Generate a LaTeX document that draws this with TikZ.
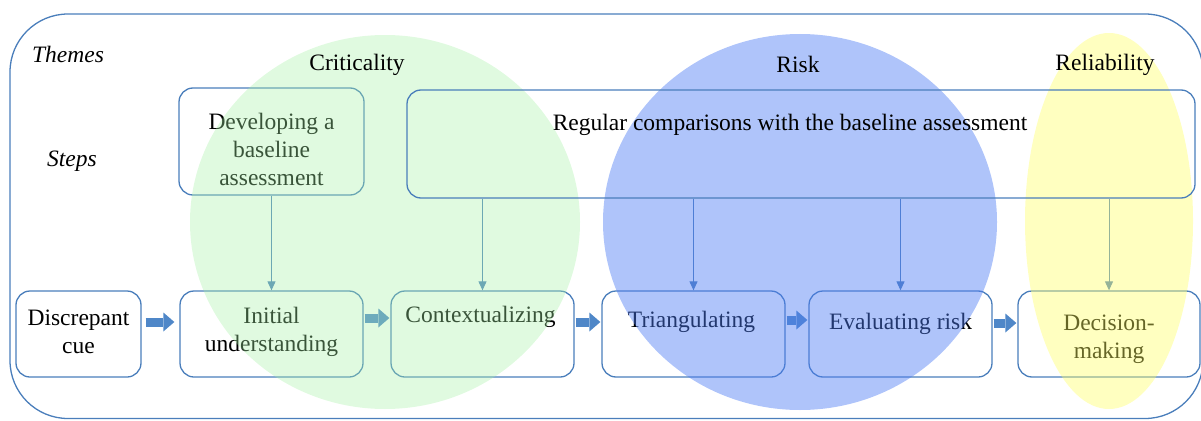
\documentclass[tikz,border=0pt]{standalone}
\usepackage{fontspec}
\setmainfont{Liberation Serif}
\newfontfamily\diagserif{Liberation Serif}
\usetikzlibrary{arrows.meta}
\pgfdeclarelayer{under}
\pgfdeclarelayer{over}
\pgfsetlayers{under,main,over}
\definecolor{boxline}{RGB}{74,126,187}
\definecolor{arrowc}{RGB}{79,129,189}
\definecolor{blockc}{RGB}{79,135,200}
\definecolor{greenc}{RGB}{166,241,166}
\definecolor{bluec}{RGB}{77,124,244}
\definecolor{yellowc}{RGB}{255,255,98}
\begin{document}
\begin{tikzpicture}[x=1pt,y=-1pt,
  font=\diagserif\fontsize{23.5}{28}\selectfont,
  stepbox/.style={draw=boxline, line width=1.3pt, rounded corners=14pt, inner sep=0pt},
  txt/.style={align=center, inner sep=0pt},
  thinarrow/.style={draw=arrowc, line width=1pt, -{Triangle[length=9pt,width=8pt]}},
  blockarrow/.style={draw=blockc, line width=9pt, -{Triangle[length=11pt,width=19pt,line width=0pt]}, shorten <=2pt, shorten >=2pt},
  theme/.style={inner sep=0pt},
  ]
\useasboundingbox (0,0) rectangle (1201,420);

\begin{pgfonlayer}{over}
  \node[stepbox, minimum width=788pt, minimum height=108pt,
        label={[txt, xshift=-11pt, yshift=19pt]center:Regular comparisons with the baseline assessment}]
        (reg) at (801,144) {};
  \node[theme] (crit) at (357,65) {Criticality};
  \node[theme] (risk) at (798,64) {Risk};
  \node[theme] (rel) at (1105,65) {Reliability};
  \node[theme] (themes) at (68,54.5) {\itshape Themes};
  \node[theme] (steps) at (72,161) {\itshape Steps};
\end{pgfonlayer}

\begin{pgfonlayer}{under}
  \draw[draw=boxline, line width=1.3pt, rounded corners=58pt] (10,14) rectangle (1203,418.5);
  \node[stepbox, minimum width=185pt, minimum height=107pt,
        label={[txt, yshift=-8pt]center:Developing a\\baseline\\assessment}]
        (dev) at (271.5,141.5) {};
  \node[stepbox, minimum width=125pt, minimum height=86pt,
        label={[txt, yshift=2.5pt]center:Discrepant\\cue}] (disc) at (78.5,334) {};
  \node[stepbox, minimum width=183pt, minimum height=86pt,
        label={[txt, yshift=2.5pt]center:Initial\\understanding}] (init) at (271.5,334) {};
  \node[stepbox, minimum width=183pt, minimum height=86pt,
        label={[txt, xshift=-2pt, yshift=17pt]center:Contextualizing}] (ctx) at (482.5,334) {};
  \node[stepbox, minimum width=183pt, minimum height=86pt,
        label={[txt, xshift=-2pt, yshift=12pt]center:Triangulating}] (tri) at (693.5,334) {};
  \node[stepbox, minimum width=183pt, minimum height=86pt,
        label={[txt, yshift=10pt]center:Evaluating risk}] (eval) at (900.5,334) {};
  \node[stepbox, minimum width=182pt, minimum height=86pt,
        label={[txt, yshift=-5pt]center:Decision-\\making}] (dec) at (1109,334) {};

  \draw[thinarrow] (dev.south) -- (init.north);
  \draw[thinarrow] (ctx.north |- reg.south) -- (ctx.north);
  \draw[thinarrow] (tri.north |- reg.south) -- (tri.north);
  \draw[thinarrow] (eval.north |- reg.south) -- (eval.north);
  \draw[thinarrow] (dec.north |- reg.south) -- (dec.north);

  \draw[blockarrow, shorten <=4pt, shorten >=5pt] ([yshift=12pt]disc.east) -- ([yshift=12pt]init.west);
  \draw[blockarrow, shorten <=1pt, shorten >=1pt] ([yshift=16pt]init.east) -- ([yshift=16pt]ctx.west);
  \draw[blockarrow, shorten <=1pt, shorten >=1pt] ([yshift=12pt]ctx.east) -- ([yshift=12pt]tri.west);
  \draw[blockarrow, shorten <=1pt, shorten >=1pt] ([yshift=14pt]tri.east) -- ([yshift=14pt]eval.west);
  \draw[blockarrow, shorten <=1pt, shorten >=1pt] ([yshift=11pt]eval.east) -- ([yshift=11pt]dec.west);
\end{pgfonlayer}

\fill[greenc, fill opacity=0.35] (385,222) ellipse[x radius=195pt, y radius=187pt];
\fill[bluec, fill opacity=0.45] (800,222) ellipse[x radius=197pt, y radius=188pt];
\fill[yellowc, fill opacity=0.4] (1109,221) ellipse[x radius=84pt, y radius=188pt];
\end{tikzpicture}
\end{document}
